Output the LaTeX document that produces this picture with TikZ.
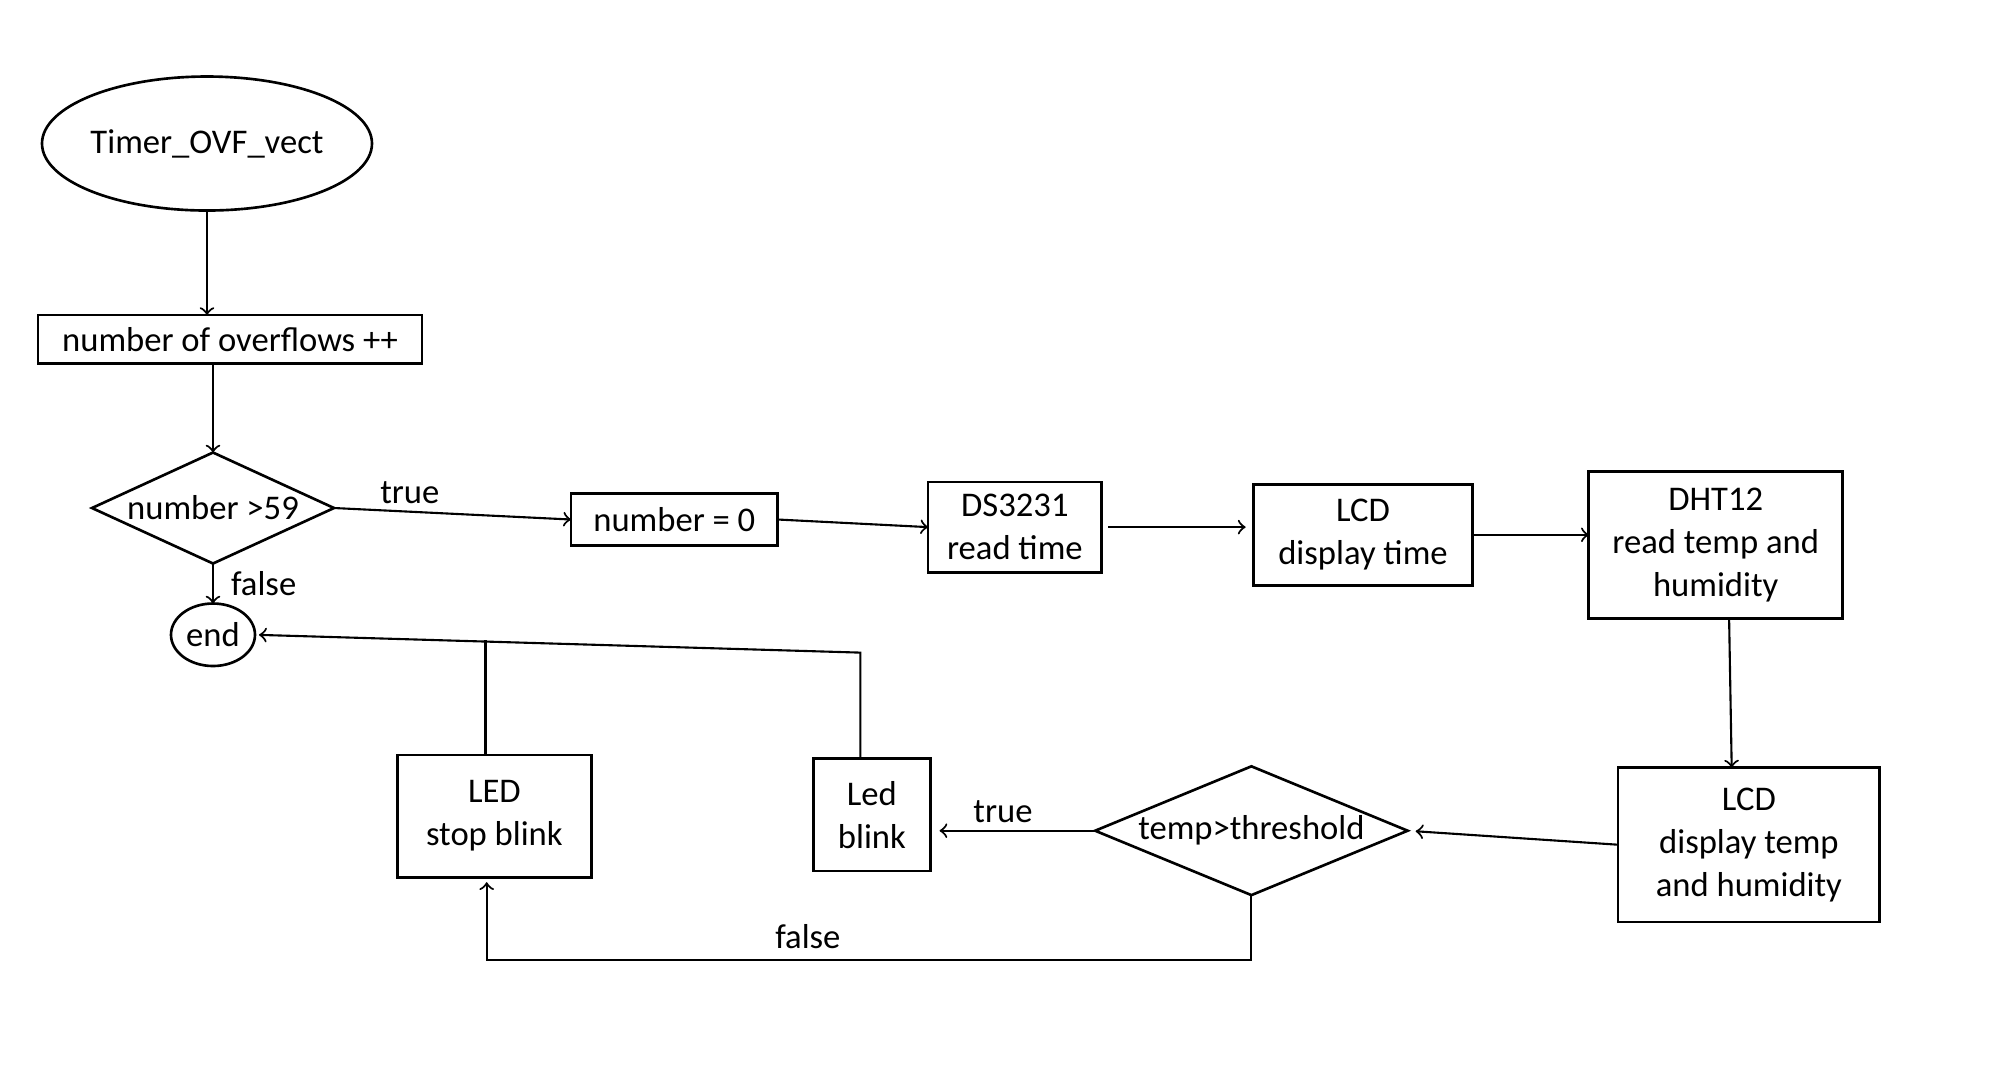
\documentclass[tikz,border=0pt]{standalone}
\usepackage{fontspec}
\setmainfont{Carlito}
\usepackage{tikz}
\usetikzlibrary{positioning, shapes.geometric}

\begin{document}
\begin{tikzpicture}[
        font=\fontsize{9.85}{12.2}\selectfont,
        line width=0.6pt,
        every node/.style={align=center},
        box/.style={draw, line width=0.75pt, inner sep=0pt, outer sep=0pt},
        oval/.style={draw, ellipse, line width=0.75pt, inner sep=0pt, outer sep=0pt},
        decision/.style={draw, diamond, line width=0.75pt, inner sep=0pt, outer sep=0pt},
        arrow/.style={->},
        lbl/.style={inner sep=2pt}
    ]

    \useasboundingbox (0,0) rectangle (20,-10.64);

    % Nodes
    \node[oval, minimum width=3.30cm, minimum height=1.34cm] (timer) at (2.07,-1.435) {Timer\_OVF\_vect};
    \node[box, below=1.045cm of timer, xshift=0.23cm, minimum width=3.84cm, minimum height=0.485cm] (ovf) {number of overflows ++};
    \node[decision, aspect=2.2, minimum width=2.42cm, minimum height=1.11cm, below=0.89cm of ovf, xshift=-0.17cm] (chk) {number >59};
    \node[oval, minimum width=0.84cm, minimum height=0.625cm, below=0.40cm of chk] (done) {end};

    \node[box, right=2.37cm of chk, yshift=-0.115cm, minimum width=2.066cm, minimum height=0.523cm] (zero) {number = 0};
    \node[box, right=1.505cm of zero, yshift=-0.076cm, minimum width=1.735cm, minimum height=0.906cm] (ds) {DS3231\\ read time};
    \node[box, right=1.517cm of ds, yshift=-0.077cm, minimum width=2.194cm, minimum height=1.008cm] (lcdt) {LCD\\ display time};
    \node[box, right=1.161cm of lcdt, yshift=-0.102cm, minimum width=2.538cm, minimum height=1.467cm] (dht) {DHT12\\ read temp and\\ humidity};

    \node[box, below=1.492cm of dht, xshift=0.332cm, minimum width=2.615cm, minimum height=1.543cm] (lcdh) {LCD\\ display temp\\ and humidity};
    \node[decision, aspect=2.4, minimum width=3.125cm, minimum height=1.288cm, left=2.105cm of lcdh, yshift=0.14cm] (thr) {temp>threshold};
    \node[box, left=1.646cm of thr, yshift=0.16cm, minimum width=1.173cm, minimum height=1.122cm] (led) {Led\\ blink};
    \node[box, left=2.219cm of led, yshift=-0.013cm, minimum width=1.939cm, minimum height=1.224cm] (stop) {LED\\ stop blink};

    % Arrows
    \draw[arrow] (timer) -- (timer |- ovf.north);
    \draw[arrow] (chk.north |- ovf.south) -- (chk.north);
    \draw[arrow] (chk) -- (done) node[lbl, midway, right, xshift=0.1cm] {false};
    \draw[arrow] (chk.east) -- (zero.west) node[lbl, pos=0.32, above] {true};

    \draw[arrow] (zero.east) -- (ds.west);
    \draw[arrow, shorten <=0.064cm, shorten >=0.077cm] (ds.east) -- (ds.east -| lcdt.west);
    \draw[arrow] (lcdt.east) -- (lcdt.east -| dht.west);
    \draw[arrow] ([xshift=0.134cm]dht.south) -- ([xshift=-0.172cm]lcdh.north);
    \draw[arrow, shorten >=0.08cm] (lcdh.west) -- (thr.east);
    \draw[arrow, shorten >=0.09cm] (thr.west) -- (thr.west -| led.east) node[lbl, pos=0.56, above] {true};

    % Back to end
    \draw[arrow, shorten >=0.04cm] ([xshift=-0.115cm]led.north) -- ++(0,1.06) coordinate (jl) -- (done.east);
    \draw ([xshift=-0.089cm]stop.north) -- ++(0,1.15);

    % false branch
    \coordinate (sb) at ([xshift=-0.077cm]stop.south);
    \draw[arrow, shorten >=0.05cm] (thr.south) -- ++(0,-0.65) coordinate (jf) -- (sb |- jf) node[lbl, pos=0.58, above, yshift=0.03cm] {false} -- (sb);

\end{tikzpicture}
\end{document}
